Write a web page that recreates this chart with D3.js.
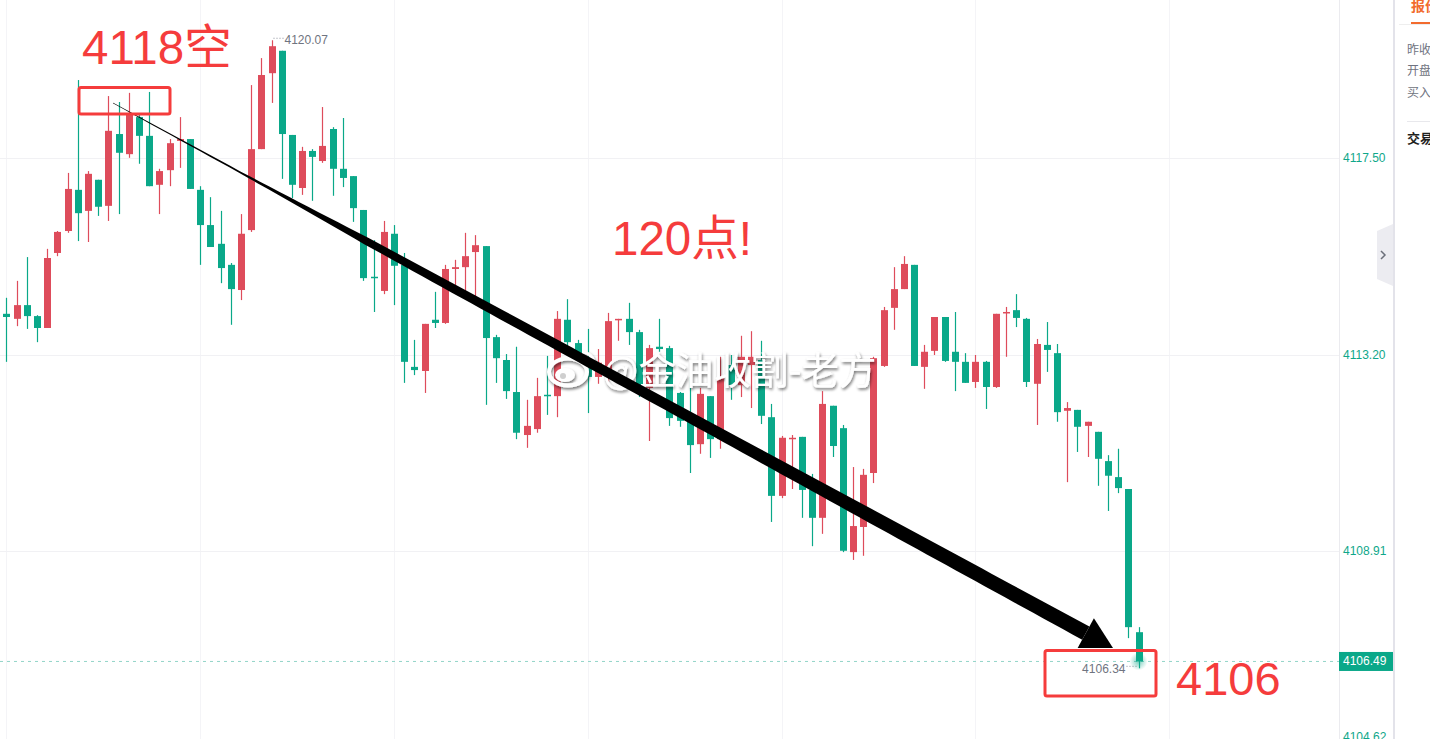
<!DOCTYPE html>
<html><head><meta charset="utf-8">
<script src="https://cdn.jsdelivr.net/npm/d3@7"></script>
<style>html,body{margin:0;padding:0;background:#fff;overflow:hidden}svg{display:block}</style>
</head><body><svg id="c" width="1430" height="739"></svg>
<script>
// ---------------- data ----------------
const opens = [4114.09,4113.98,4114.28,4114.04,4113.78,4115.42,4115.90,4116.80,4116.34,4117.02,
4116.45,4118.02,4117.58,4118.39,4117.98,4116.91,4117.23,4117.87,4117.91,4116.80,
4116.03,4115.62,4115.16,4114.61,4115.92,4117.69,4119.35,4119.84,4118.00,4116.84,
4117.65,4117.43,4118.13,4117.26,4117.10,4116.36,4114.90,4114.59,4115.84,4115.16,
4112.93,4112.84,4113.96,4113.89,4115.07,4115.11,4115.44,4115.57,4113.58,4113.08,
4112.38,4111.44,4111.57,4112.32,4112.29,4113.96,4113.45,4113.12,4112.71,4112.71,
4113.96,4113.98,4113.69,4112.47,4113.37,4113.34,4112.36,4111.75,4111.24,4112.29,
4111.35,4112.97,4112.53,4112.97,4113.08,4111.83,4110.11,4111.35,4111.40,4110.24,
4109.63,4112.08,4111.59,4108.88,4109.43,4110.61,4112.95,4114.22,4114.63,4115.16,
4112.93,4113.28,4114.02,4113.26,4113.04,4112.60,4113.04,4112.49,4114.11,4114.17,
4113.98,4112.56,4113.41,4113.23,4111.97,4111.99,4111.64,4111.51,4110.87,4110.52,
4110.26,4107.13];
const highs = [4114.44,4114.81,4115.33,4114.06,4115.51,4115.90,4117.17,4119.20,4117.21,4117.02,
4118.85,4118.72,4118.92,4118.48,4118.94,4117.26,4117.91,4118.39,4117.91,4116.88,
4116.64,4116.34,4115.20,4116.27,4119.09,4119.68,4120.07,4119.84,4118.00,4117.74,
4117.69,4118.61,4118.17,4118.37,4117.10,4116.36,4115.70,4116.12,4116.03,4115.42,
4113.52,4113.87,4114.57,4115.16,4115.27,4115.86,4115.81,4115.57,4113.63,4113.21,
4113.37,4112.21,4112.69,4113.17,4114.15,4114.41,4113.52,4113.76,4113.32,4114.11,
4113.98,4114.33,4113.74,4113.41,4113.98,4113.39,4112.38,4112.71,4112.47,4112.29,
4113.15,4113.19,4113.61,4113.71,4113.50,4112.12,4111.42,4111.44,4111.40,4110.59,
4112.40,4112.08,4111.66,4110.74,4110.70,4113.15,4114.24,4115.11,4115.35,4115.16,
4113.41,4114.02,4114.02,4114.13,4113.23,4113.19,4113.06,4114.09,4114.24,4114.52,
4114.00,4113.54,4113.91,4113.43,4112.16,4111.99,4111.73,4111.51,4111.00,4111.14,
4110.26,4107.24];
const lows = [4113.04,4113.82,4113.76,4113.47,4113.78,4115.35,4115.86,4115.68,4115.66,4116.23,
4116.12,4116.27,4117.50,4117.37,4116.88,4116.27,4116.88,4117.28,4116.82,4115.16,
4115.55,4114.76,4113.85,4114.39,4115.88,4117.69,4118.70,4117.04,4116.62,4116.69,
4116.56,4117.39,4116.67,4116.86,4116.10,4114.81,4114.13,4114.52,4114.28,4112.58,
4112.75,4112.36,4113.78,4113.87,4114.68,4114.46,4114.44,4112.10,4112.58,4112.23,
4111.35,4111.16,4111.49,4111.88,4111.83,4113.26,4113.04,4111.92,4112.56,4112.58,
4113.50,4113.41,4112.27,4111.31,4113.26,4111.64,4111.62,4110.61,4111.03,4110.94,
4111.14,4112.21,4112.27,4112.03,4111.68,4109.54,4110.06,4110.26,4109.63,4109.01,
4109.28,4110.96,4108.88,4108.71,4108.80,4110.39,4112.93,4113.74,4114.63,4112.95,
4112.45,4113.19,4113.04,4112.40,4112.58,4112.47,4112.01,4112.47,4113.15,4113.80,
4112.49,4111.66,4112.82,4111.73,4110.41,4111.07,4110.96,4110.33,4109.78,4110.17,
4107.00,4106.34];
const closes = [4114.02,4114.28,4114.04,4113.78,4115.31,4115.88,4116.82,4116.29,4117.15,4116.43,
4118.09,4117.61,4118.48,4117.98,4116.88,4117.21,4117.82,4117.91,4116.82,4116.03,
4115.55,4115.09,4114.63,4115.84,4117.69,4119.31,4119.94,4118.02,4116.91,4117.65,
4117.52,4117.76,4117.26,4117.06,4116.40,4114.87,4114.87,4115.88,4115.14,4113.04,
4112.86,4113.87,4113.89,4115.07,4115.11,4115.35,4115.59,4113.56,4113.12,4112.40,
4111.49,4111.64,4112.29,4112.29,4113.98,4113.47,4113.15,4112.71,4113.02,4113.93,
4113.98,4113.69,4112.36,4113.34,4113.32,4111.81,4111.75,4111.22,4112.34,4111.35,
4112.70,4112.53,4113.15,4113.15,4111.86,4110.11,4111.38,4111.38,4110.24,4109.63,
4112.12,4111.20,4108.91,4109.45,4110.57,4113.12,4114.17,4114.63,4115.18,4112.95,
4113.26,4114.02,4113.06,4113.04,4112.58,4113.04,4112.49,4114.09,4114.13,4114.00,
4112.60,4113.43,4113.30,4111.94,4112.03,4111.62,4111.73,4110.92,4110.55,4110.28,
4107.24,4106.49];
const tickValues = [4117.50, 4113.20, 4108.91, 4104.62];
const tickLabels = ["4117.50", "4113.20", "4108.91", "4104.62"];
const lastPrice = 4106.49;
const lastPriceLabel = "4106.49";
const highLabel = "4120.07";
const lowLabel = "4106.34";
const panelItems = ["昨收", "开盘", "买入"];

// ---------------- setup ----------------
const W = 1430, H = 739, axisX = 1339;
const svg = d3.select("#c");
const UP = "#de4c5b", DOWN = "#0aa889", TEAL = "#0fa78a";
const x = d3.scaleLinear().domain([0, opens.length - 1]).range([6.3, 1138.5]);
const y = d3.scaleLinear().domain([4104.795, 4120.95]).range([H, 0]);
const candles = opens.map((o, i) => ({i, o, h: highs[i], l: lows[i], c: closes[i]}));

const defs = svg.append("defs");
const f = defs.append("filter").attr("id", "wm").attr("x", "-10%").attr("y", "-30%").attr("width", "120%").attr("height", "160%");
f.append("feGaussianBlur").attr("in", "SourceAlpha").attr("stdDeviation", 1.8).attr("result", "b");
f.append("feOffset").attr("in", "b").attr("dx", 1).attr("dy", 1.5).attr("result", "o");
f.append("feComponentTransfer").attr("in", "o").attr("result", "s")
  .append("feFuncA").attr("type", "linear").attr("slope", 0.55);
const fm = f.append("feMerge");
fm.append("feMergeNode").attr("in", "s");
fm.append("feMergeNode").attr("in", "SourceGraphic");
const rg = defs.append("radialGradient").attr("id", "glow");
rg.append("stop").attr("offset", "0%").attr("stop-color", TEAL).attr("stop-opacity", 0.55);
rg.append("stop").attr("offset", "100%").attr("stop-color", TEAL).attr("stop-opacity", 0);

// ---------------- grid ----------------
const grid = svg.append("g");
grid.selectAll("line.v").data(d3.range(0, 115, 19)).join("line")
  .attr("x1", d => Math.round(x(d)) + 0.5).attr("x2", d => Math.round(x(d)) + 0.5)
  .attr("y1", 0).attr("y2", H).attr("stroke", "#f4f4f7").attr("stroke-width", 1);
grid.selectAll("line.h").data(tickValues).join("line")
  .attr("x1", 0).attr("x2", axisX).attr("y1", d => Math.round(y(d)) + 0.5).attr("y2", d => Math.round(y(d)) + 0.5)
  .attr("stroke", "#f1f1f4").attr("stroke-width", 1);

// current price dashed line
svg.append("line").attr("x1", 0).attr("x2", axisX).attr("y1", y(lastPrice)).attr("y2", y(lastPrice))
  .attr("stroke", "#93d5c8").attr("stroke-width", 1).attr("stroke-dasharray", "3,4");

// ---------------- candles ----------------
const cg = svg.append("g");
cg.selectAll("line").data(candles).join("line")
  .attr("x1", d => Math.round(x(d.i)) + 0.5).attr("x2", d => Math.round(x(d.i)) + 0.5)
  .attr("y1", d => y(d.h)).attr("y2", d => y(d.l))
  .attr("stroke", d => d.c >= d.o ? UP : DOWN).attr("stroke-width", 1.2);
cg.selectAll("rect").data(candles).join("rect")
  .attr("x", d => Math.round(x(d.i)) - 3).attr("width", 7)
  .attr("y", d => y(Math.max(d.o, d.c)))
  .attr("height", d => Math.max(1.5, Math.abs(y(d.o) - y(d.c))))
  .attr("fill", d => d.c >= d.o ? UP : DOWN);

// glow on last candle
const lastC = candles[candles.length - 1];
svg.append("circle").attr("cx", x(lastC.i)).attr("cy", y(lastPrice)).attr("r", 9).attr("fill", "url(#glow)");

// high / low labels
const hiIdx = d3.maxIndex(highs), loIdx = d3.minIndex(lows);
svg.append("line").attr("x1", x(hiIdx) + 2).attr("x2", x(hiIdx) + 12).attr("y1", y(highs[hiIdx]) - 2).attr("y2", y(highs[hiIdx]) - 2)
  .attr("stroke", "#8a8f9a").attr("stroke-dasharray", "1,2");
svg.append("text").attr("x", x(hiIdx) + 13).attr("y", y(highs[hiIdx]))
  .attr("dominant-baseline", "central").attr("font-family", "Liberation Sans, Arial, sans-serif")
  .attr("font-size", 12).attr("fill", "#6f7480").text(highLabel);
svg.append("line").attr("x1", x(loIdx) - 12).attr("x2", x(loIdx) - 2).attr("y1", y(lows[loIdx]) - 2).attr("y2", y(lows[loIdx]) - 2)
  .attr("stroke", "#8a8f9a").attr("stroke-dasharray", "1,2");
svg.append("text").attr("x", x(loIdx) - 13).attr("y", y(lows[loIdx]) + 1).attr("text-anchor", "end")
  .attr("dominant-baseline", "central").attr("font-family", "Liberation Sans, Arial, sans-serif")
  .attr("font-size", 12).attr("fill", "#6f7480").text(lowLabel);

// ---------------- watermark ----------------
const wm = svg.append("g").attr("filter", "url(#wm)");
wm.append("ellipse").attr("cx", 568).attr("cy", 372).attr("rx", 19).attr("ry", 13.5)
  .attr("fill", "none").attr("stroke", "#fff").attr("stroke-width", 4);
wm.append("ellipse").attr("cx", 565).attr("cy", 375).attr("rx", 10).attr("ry", 7).attr("fill", "#fff");
wm.append("circle").attr("cx", 563).attr("cy", 376).attr("r", 3).attr("fill", "#cfcfcf");
wm.append("path").attr("d", "M582,352 A12,12 0 0 1 594,364").attr("fill", "none").attr("stroke", "#fff").attr("stroke-width", 3);
wm.append("path").attr("d", "M582,358 A6,6 0 0 1 588,364").attr("fill", "none").attr("stroke", "#fff").attr("stroke-width", 3);
wm.append("text").attr("x", 603).attr("y", 384).attr("font-family", "Noto Sans CJK SC, sans-serif")
  .attr("font-size", 37.5).attr("fill", "#fff").text("@金油收割-老方");

// ---------------- arrow ----------------
const S = [113, 103], T = [1113, 648];
const len = Math.hypot(T[0] - S[0], T[1] - S[1]);
const u = [(T[0] - S[0]) / len, (T[1] - S[1]) / len], n = [-u[1], u[0]];
const headLen = 31, headHalf = 17, L = len - headLen;
const wScale = d3.scaleLinear().domain([0, 0.13, 0.19, 0.26, 0.37, 0.59, 0.79, 1]).range([0.6, 1.8, 4, 7.5, 9, 10.8, 13.5, 15]);
const ts = d3.range(0, 1.0001, 0.01);
const left = ts.map(t => { const w = wScale(t) / 2; return [S[0] + u[0] * t * L + n[0] * w, S[1] + u[1] * t * L + n[1] * w]; });
const right = ts.map(t => { const w = wScale(t) / 2; return [S[0] + u[0] * t * L - n[0] * w, S[1] + u[1] * t * L - n[1] * w]; }).reverse();
svg.append("polygon").attr("points", left.concat(right).map(p => p.join(",")).join(" ")).attr("fill", "#000");
const B = [S[0] + u[0] * L, S[1] + u[1] * L];
svg.append("polygon").attr("points", [
  [B[0] + n[0] * headHalf, B[1] + n[1] * headHalf], T, [B[0] - n[0] * headHalf, B[1] - n[1] * headHalf]
].map(p => p.join(",")).join(" ")).attr("fill", "#000");

// ---------------- red annotations ----------------
const RED = "#f53c3c";
svg.append("rect").attr("x", 79).attr("y", 87.5).attr("width", 91).attr("height", 26.5).attr("rx", 2)
  .attr("fill", "none").attr("stroke", RED).attr("stroke-width", 3);
svg.append("rect").attr("x", 1045).attr("y", 650.5).attr("width", 111).attr("height", 45.5).attr("rx", 2)
  .attr("fill", "none").attr("stroke", RED).attr("stroke-width", 3);
const annFont = "Liberation Sans, Arial, Noto Sans CJK SC, sans-serif";
svg.append("text").attr("x", 82).attr("y", 64).attr("font-family", annFont).attr("font-size", 47.5).attr("fill", RED).text("4118空");
svg.append("text").attr("x", 612).attr("y", 255).attr("font-family", annFont).attr("font-size", 47.5).attr("fill", RED).text("120点!");
svg.append("text").attr("x", 1176).attr("y", 695).attr("font-family", annFont).attr("font-size", 47).attr("fill", RED).text("4106");

// ---------------- price axis ----------------
svg.append("line").attr("x1", axisX + 0.5).attr("x2", axisX + 0.5).attr("y1", 0).attr("y2", H).attr("stroke", "#ebebef");
svg.append("g").selectAll("text").data(tickValues).join("text")
  .attr("x", 1343).attr("y", (d) => Math.min(y(d), 737))
  .attr("dominant-baseline", "central").attr("font-family", "Liberation Sans, Arial, sans-serif")
  .attr("font-size", 12).attr("fill", TEAL).text((d, i) => tickLabels[i]);
svg.append("rect").attr("x", axisX).attr("y", y(lastPrice) - 9.5).attr("width", 54).attr("height", 19).attr("fill", "#0aa889");
svg.append("text").attr("x", 1343).attr("y", y(lastPrice)).attr("dominant-baseline", "central")
  .attr("font-family", "Liberation Sans, Arial, sans-serif").attr("font-size", 12).attr("fill", "#fff").text(lastPriceLabel);

// collapse tab
svg.append("polygon").attr("points", "1393,224 1393,286 1377,279 1377,231").attr("fill", "#ececf1");
svg.append("path").attr("d", "M1381,251 L1385,255 L1381,259").attr("fill", "none").attr("stroke", "#6b6f7a").attr("stroke-width", 1.5);

// ---------------- right panel ----------------
svg.append("rect").attr("x", 1393).attr("y", 0).attr("width", 2).attr("height", H).attr("fill", "#e3e3ea");
svg.append("text").attr("x", 1411).attr("y", 11).attr("font-family", "Noto Sans CJK SC, sans-serif")
  .attr("font-size", 14).attr("font-weight", "bold").attr("fill", "#f26b2e").text("报价");
svg.append("line").attr("x1", 1399).attr("x2", W).attr("y1", 24.5).attr("y2", 24.5).attr("stroke", "#eeeeee");
svg.append("rect").attr("x", 1411).attr("y", 22).attr("width", 19).attr("height", 2).attr("fill", "#f26b2e");
svg.append("g").selectAll("text").data(panelItems).join("text")
  .attr("x", 1407).attr("y", (d, i) => 48 + i * 21.5).attr("dominant-baseline", "central")
  .attr("font-family", "Noto Sans CJK SC, sans-serif").attr("font-size", 12).attr("fill", "#6f7380").text(d => d);
svg.append("line").attr("x1", 1407).attr("x2", W).attr("y1", 121.5).attr("y2", 121.5).attr("stroke", "#e8e8ec");
svg.append("text").attr("x", 1407).attr("y", 137).attr("dominant-baseline", "central")
  .attr("font-family", "Noto Sans CJK SC, sans-serif").attr("font-size", 13).attr("font-weight", "bold").attr("fill", "#1f1f1f").text("交易");
</script></body></html>
